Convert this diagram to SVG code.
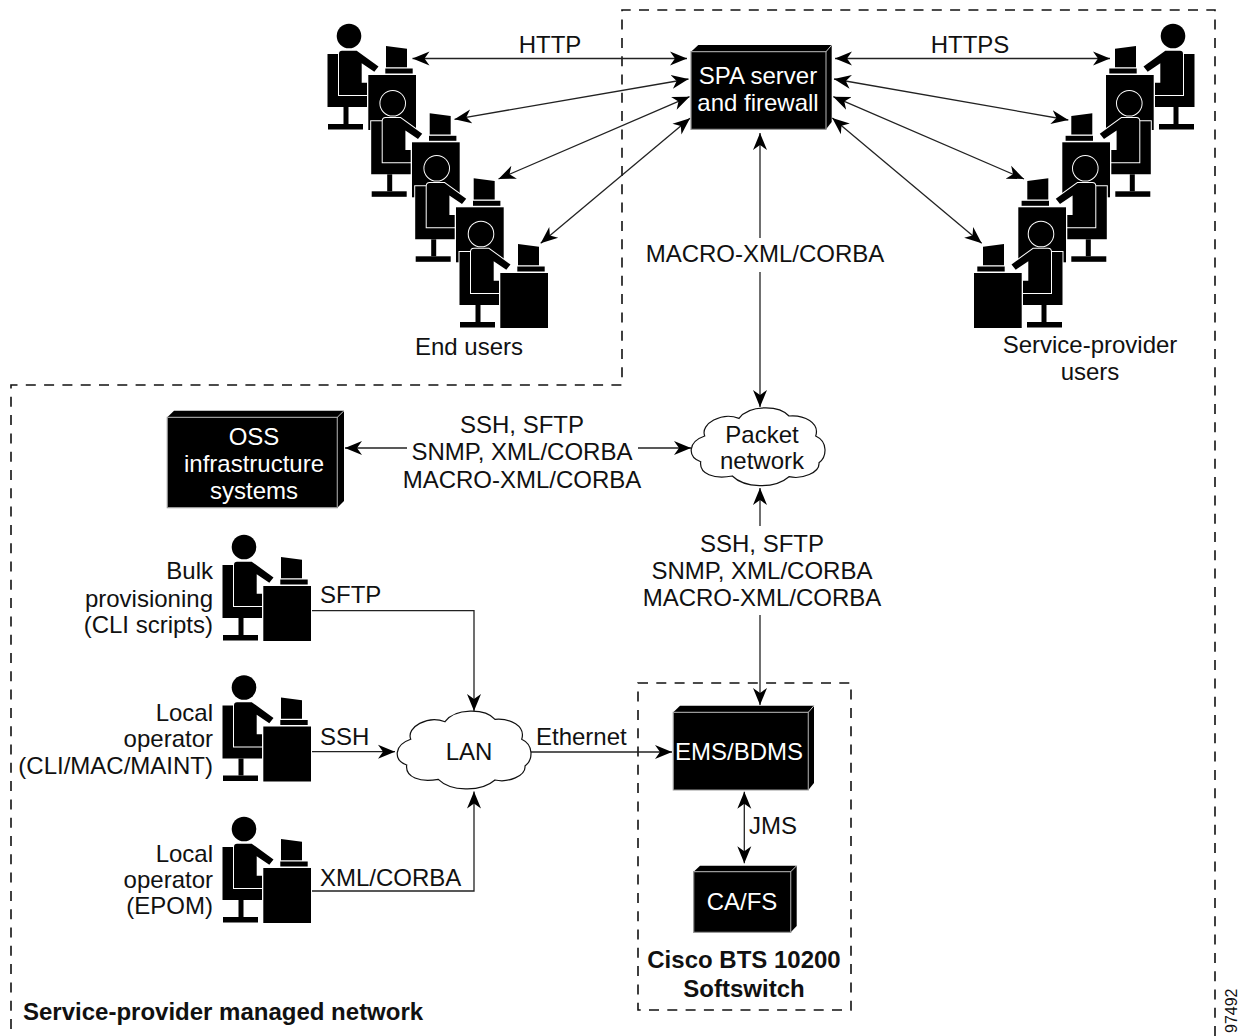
<svg xmlns="http://www.w3.org/2000/svg" width="1242" height="1036" viewBox="0 0 1242 1036">
<style>
text{font-family:"Liberation Sans",Arial,sans-serif;font-size:24px;fill:#111}
.m{text-anchor:middle}.e{text-anchor:end}
.w{fill:#fff}.b{font-weight:bold}
.c{fill:none;stroke:#222;stroke-width:1.3}
.a{marker-end:url(#ah)}.s{marker-start:url(#ah)}
.d{fill:none;stroke:#111;stroke-width:1.6;stroke-dasharray:10 8.3}
.k{fill:#000;stroke:#fff;stroke-width:2;paint-order:stroke}
.f{fill:#000}
.bf{fill:#000;stroke:#999;stroke-width:1.2}
.cl{fill:#fff;stroke:#111;stroke-width:1.2}
</style>
<defs>
<marker id="ah" markerUnits="userSpaceOnUse" markerWidth="20" markerHeight="16" refX="17" refY="7" orient="auto-start-reverse" viewBox="0 0 20 14">
<path d="M0 0L17 7L0 14L5 7Z" fill="#000"/>
</marker>
<g id="person">
<path class="k" d="M327.500 54H338.500V95H367V107H327.500Z"/>
<rect class="f" x="343.500" y="107" width="5" height="17"/>
<rect class="f" x="328" y="124" width="35" height="5.500"/>
<path class="k" d="M339 54Q339 50.700 342 50.700H356.700L378.500 66.500L374.300 71.700L361.700 63.300V82.700H367V95H339Z"/>
<circle class="k" cx="349" cy="36" r="12.300"/>
<path class="f" d="M386 46L407 48.700V67.300H386Z"/>
<rect class="f" x="385.300" y="68.500" width="27.400" height="5"/>
<rect class="k" x="368.300" y="75" width="47.700" height="55"/>
</g>
<g id="personR">
<use href="#person" transform="matrix(-1 0 0 1 1522 0)"/>
</g>
<path id="cloud" class="cl" d="M410.700 739.300C406 727 428 715 445 721.700C455 708 485 708 495 719.300C510 718 526 726 521.700 739.300C534 745 533 760 525 766C526 776 508 783 495 780C480 793 450 791 438.300 779.300C420 783 405 777 406.700 765C393 760 394 745 410.700 739.300Z"/>
</defs>
<g id="connectors">
<path class="d" d="M11 1029V385H622V10H1215V1036"/>
<path class="d" d="M638 683H851V1010H638Z"/>
<line class="c a s" x1="412.500" y1="58.500" x2="687" y2="58.500"/>
<line class="c a s" x1="454.500" y1="119.300" x2="688.500" y2="79"/>
<line class="c a s" x1="498.500" y1="179" x2="689.500" y2="96.700"/>
<line class="c a s" x1="540.700" y1="243.300" x2="690" y2="118.300"/>
<line class="c a s" x1="835" y1="58.500" x2="1110" y2="58.500"/>
<line class="c a s" x1="834" y1="79" x2="1068.300" y2="120"/>
<line class="c a s" x1="833.300" y1="96.700" x2="1024" y2="179"/>
<line class="c a s" x1="832.300" y1="118" x2="981.700" y2="243.300"/>
<line class="c s" x1="760" y1="133" x2="760" y2="238"/>
<line class="c a" x1="760" y1="272" x2="760" y2="407"/>
<line class="c s" x1="345" y1="448" x2="407" y2="448"/>
<line class="c a" x1="638" y1="448" x2="691" y2="448"/>
<line class="c s" x1="760" y1="488" x2="760" y2="526"/>
<line class="c a" x1="760" y1="615" x2="760" y2="705"/>
<path class="c a" d="M312 610.700H474V711"/>
<line class="c a" x1="312" y1="751.700" x2="395" y2="751.700"/>
<path class="c a" d="M312 891H474V791.500"/>
<line class="c a" x1="530" y1="752" x2="672" y2="752"/>
<line class="c a s" x1="744.300" y1="791.700" x2="744.300" y2="863.300"/>
</g>
<g id="end-users">
<use href="#person"/>
<use href="#person" x="43.700" y="67.300"/>
<use href="#person" x="87.700" y="132.300"/>
<use href="#person" x="132" y="198"/>
<text class="m" x="469" y="355">End users</text>
</g>
<g id="service-provider-users">
<use href="#personR"/>
<use href="#personR" x="-43.700" y="67.300"/>
<use href="#personR" x="-87.700" y="132.300"/>
<use href="#personR" x="-132" y="198"/>
<text class="m" x="1090" y="353">Service-provider</text>
<text class="m" x="1090" y="380">users</text>
</g>
<g id="spa-server">
<path class="f" d="M698.300 45H831.700V122L826 129.300H691V51.700Z"/>
<path class="bf" d="M691 129.300V51.700H826V129.300Z"/>
<path d="M826 51.700L831.700 45" stroke="#ccc" stroke-width="1"/>
<text class="m w" x="758" y="84">SPA server</text>
<text class="m w" x="758" y="111">and firewall</text>
</g>
<g id="oss">
<path class="f" d="M174 410.700H344V501L337.300 507.700H167.300V417.300Z"/>
<path class="bf" d="M167.300 507.700V417.300H337.300V507.700Z"/>
<path d="M337.300 417.300L344 410.700" stroke="#ccc" stroke-width="1"/>
<text class="m w" x="254" y="445">OSS</text>
<text class="m w" x="254" y="472">infrastructure</text>
<text class="m w" x="254" y="499">systems</text>
</g>
<g id="packet-network">
<use href="#cloud" x="294" y="-303.300"/>
<text class="m" x="762" y="443">Packet</text>
<text class="m" x="762" y="469">network</text>
</g>
<g id="lan">
<use href="#cloud"/>
<text class="m" x="469" y="760">LAN</text>
</g>
<g id="ems">
<path class="f" d="M680 705.700H814V783L808.300 790H673.300V712.300Z"/>
<path class="bf" d="M673.300 790V712.300H808.300V790Z"/>
<path d="M808.300 712.300L814 705.700" stroke="#ccc" stroke-width="1"/>
<text class="m w" x="739" y="760">EMS/BDMS</text>
</g>
<g id="cafs">
<path class="f" d="M700 865.700H796.700V926L790.700 932.300H693.700V871.700Z"/>
<path class="bf" d="M693.700 932.300V871.700H790.700V932.300Z"/>
<path d="M790.700 871.700L796.700 865.700" stroke="#ccc" stroke-width="1"/>
<text class="m w" x="742" y="910">CA/FS</text>
</g>
<g id="bulk">
<use href="#person" x="-105" y="511"/>
<text class="e" x="213" y="579">Bulk</text>
<text class="e" x="213" y="607">provisioning</text>
<text class="e" x="213" y="633">(CLI scripts)</text>
</g>
<g id="local-cli">
<use href="#person" x="-105" y="651.500"/>
<text class="e" x="213" y="721">Local</text>
<text class="e" x="213" y="747">operator</text>
<text class="e" x="213" y="774">(CLI/MAC/MAINT)</text>
</g>
<g id="local-epom">
<use href="#person" x="-105" y="793"/>
<text class="e" x="213" y="862">Local</text>
<text class="e" x="213" y="888">operator</text>
<text class="e" x="213" y="914">(EPOM)</text>
</g>
<g id="labels">
<text class="m" x="550" y="53">HTTP</text>
<text class="m" x="970" y="53">HTTPS</text>
<text class="m" x="765" y="262">MACRO-XML/CORBA</text>
<text class="m" x="522" y="433">SSH, SFTP</text>
<text class="m" x="522" y="460">SNMP, XML/CORBA</text>
<text class="m" x="522" y="488">MACRO-XML/CORBA</text>
<text class="m" x="762" y="552">SSH, SFTP</text>
<text class="m" x="762" y="579">SNMP, XML/CORBA</text>
<text class="m" x="762" y="606">MACRO-XML/CORBA</text>
<text x="320" y="603">SFTP</text>
<text x="320" y="745">SSH</text>
<text x="320" y="886">XML/CORBA</text>
<text x="536" y="745">Ethernet</text>
<text x="749" y="834">JMS</text>
<text class="m b" x="744" y="968">Cisco BTS 10200</text>
<text class="m b" x="744" y="997">Softswitch</text>
<text class="b" x="23" y="1020">Service-provider managed network</text>
<text transform="translate(1237 1033) rotate(-90)" style="font-size:16px">97492</text>
</g>
</svg>
